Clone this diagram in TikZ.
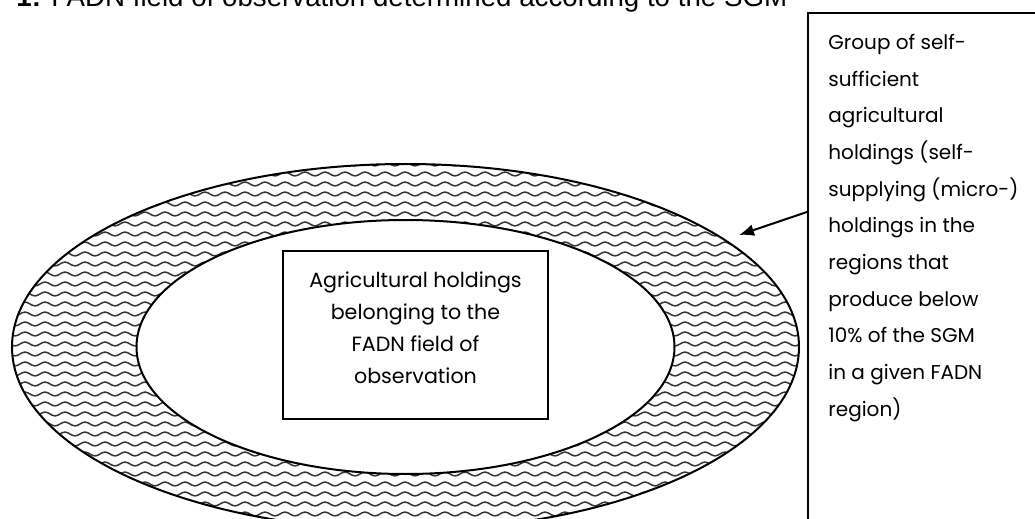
\documentclass[tikz,border=0pt]{standalone}
\usepackage{fontspec}
\setmainfont{Poppins}
\newfontfamily\titlefont{Liberation Sans}
\usetikzlibrary{patterns,arrows.meta}

% wavy hatching used for the outer ring
\pgfdeclarepatternformonly{ringwaves}{\pgfpoint{-1pt}{-1pt}}{\pgfpoint{11pt}{6pt}}{\pgfpoint{10pt}{5pt}}{
  \pgfsetlinewidth{0.75pt}
  \pgfpathmoveto{\pgfpoint{0pt}{2.5pt}}
  \pgfpathsine{\pgfpoint{2.5pt}{0.95pt}}
  \pgfpathcosine{\pgfpoint{2.5pt}{-0.95pt}}
  \pgfpathsine{\pgfpoint{2.5pt}{-0.95pt}}
  \pgfpathcosine{\pgfpoint{2.5pt}{0.95pt}}
  \pgfusepath{stroke}
}

\begin{document}
\begin{tikzpicture}[x=0.5pt,y=-0.5pt,
  outline/.style={line width=1pt},
  bodytext/.style={inner sep=0pt,font=\fontsize{10.3pt}{16pt}\selectfont},
  sidetext/.style={inner sep=0pt,font=\fontsize{10pt}{18.35pt}\selectfont}]
\useasboundingbox (0,0) rectangle (1035,519);
\clip (0,0) rectangle (1035,519);

% heading line, partly cut off at the top
\node[anchor=base west,inner sep=0pt,font=\titlefont\fontsize{13.85pt}{16pt}\selectfont] (title) at (16,6.5)
  {\textbf{1:} FADN field of observation determined according to the SGM};

% outer ring of self-sufficient holdings
\fill[pattern=ringwaves,pattern color=black!80,even odd rule]
  (405.5,347) ellipse [x radius=393.5,y radius=183]
  (405.5,347) ellipse [x radius=269,y radius=127];
\draw[outline] (405.5,347) ellipse [x radius=393.5,y radius=183];
\draw[outline] (405.5,347) ellipse [x radius=269,y radius=127];

% central box
\node[draw,outline,minimum width=132.5pt,minimum height=84pt,inner sep=0pt] (fadnbox) at (415.5,335) {};
\node[bodytext,align=center,anchor=north] (fadntext) at (415.5,264.6)
  {\strut Agricultural holdings\\belonging to the\\FADN field of\\observation};

% side box
\node[draw,outline,anchor=north west,minimum width=125pt,minimum height=280pt,inner sep=0pt] (groupbox) at (807,12) {};
\node[sidetext,align=left,anchor=north west] (grouptext) at (828,23.3)
  {\strut Group of self-\\sufficient\\agricultural\\holdings (self-\\supplying (micro-)\\holdings in the\\regions that\\produce below\\10\% of the SGM\\in a given FADN\\region)};

% pointer from the side box to the ring
\coordinate (arrowfrom) at (807,212);
\coordinate (arrowto) at (739,235);
\draw[outline,-{Latex[length=7.5pt,width=6pt]}] (arrowfrom) -- (arrowto);
\end{tikzpicture}
\end{document}
